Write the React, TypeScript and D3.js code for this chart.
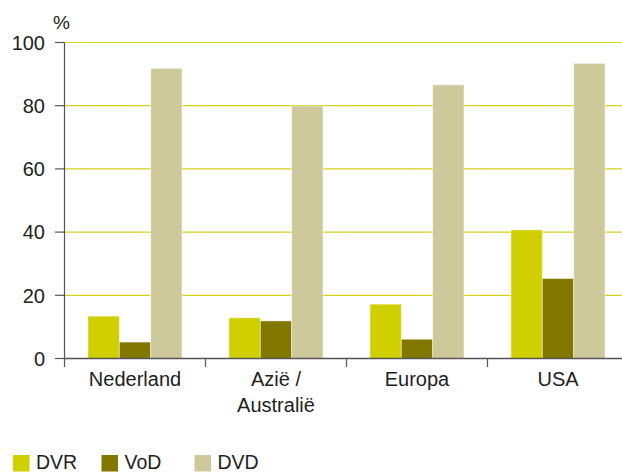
import React from "react";
import * as d3 from "d3";

const categories = ["Nederland", "Azië / Australië", "Europa", "USA"];
const categoryLines = [["Nederland"], ["Azië /", "Australië"], ["Europa"], ["USA"]];
const seriesNames = ["DVR", "VoD", "DVD"];
const dvr = [13.4, 12.9, 17.2, 40.7];
const vod = [5.2, 11.9, 6.1, 25.3];
const dvd = [91.8, 79.9, 86.6, 93.4];
const yTicks = [0, 20, 40, 60, 80, 100];
const colors = ["#d0cf00", "#827800", "#cec99a"];

const W = 622;
const H = 473;
const FONT = "'Liberation Sans', Arial, Helvetica, sans-serif";

export default function App() {
  const left = 64.5;
  const bottom = 358.5;
  const top = 42.5;
  const x0 = d3.scaleBand<string>().domain(categories).range([left, 628.5]).paddingInner(0).paddingOuter(0);
  const x1 = d3.scaleBand<string>().domain(seriesNames).range([0, x0.bandwidth()]).paddingInner(0).paddingOuter(0.75);
  const y = d3.scaleLinear().domain([0, 100]).range([bottom, top]);
  const values = [dvr, vod, dvd];
  const axisColor = "#555";
  const gridColor = "#d4d21c";

  const boundaries = categories.slice(1).map((c) => x0(c) as number);

  return (
    <div style={{ position: "absolute", left: 0, top: 0 }}>
      <svg width={W} height={H} style={{ display: "block" }} fontFamily={FONT}>
        <rect x={0} y={0} width={W} height={H} fill="#fff" />
        {/* gridlines */}
        {yTicks.filter((t) => t > 0).map((t) => (
          <line key={"g" + t} x1={left} x2={W} y1={y(t)} y2={y(t)} stroke={gridColor} strokeWidth={1.2} />
        ))}
        {/* bars */}
        {categories.map((c, ci) => (
          <g key={c} transform={`translate(${x0(c)},0)`}>
            {seriesNames.map((s, si) => {
              const v = values[si][ci];
              return (
                <rect
                  key={s}
                  x={x1(s)}
                  y={y(v)}
                  width={x1.bandwidth()}
                  height={bottom - y(v)}
                  fill={colors[si]}
                  stroke="rgba(255,255,255,0.45)"
                  strokeWidth={1}
                />
              );
            })}
          </g>
        ))}
        {/* axes */}
        <line x1={left} x2={left} y1={top} y2={367} stroke={axisColor} strokeWidth={1.2} />
        <line x1={left} x2={W} y1={bottom} y2={bottom} stroke={axisColor} strokeWidth={1.5} />
        {yTicks.map((t) => (
          <g key={"t" + t}>
            <line x1={55} x2={left} y1={y(t)} y2={y(t)} stroke={axisColor} strokeWidth={1.2} />
            <text x={45} y={y(t)} dy="0.36em" textAnchor="end" fontSize={20} fill="#222">
              {t}
            </text>
          </g>
        ))}
        {boundaries.map((b, i) => (
          <line key={"b" + i} x1={b} x2={b} y1={bottom} y2={367} stroke={axisColor} strokeWidth={1.2} />
        ))}
        <text x={53} y={29} fontSize={19} fill="#222">%</text>
        {/* category labels */}
        {categories.map((c, ci) => (
          <text key={"l" + c} x={(x0(c) as number) + x0.bandwidth() / 2} y={386} textAnchor="middle" fontSize={20} fill="#222">
            {categoryLines[ci].map((ln, li) => (
              <tspan key={li} x={(x0(c) as number) + x0.bandwidth() / 2} dy={li === 0 ? 0 : 25.5}>
                {ln}
              </tspan>
            ))}
          </text>
        ))}
        {/* legend */}
        {seriesNames.map((s, si) => {
          const lx = [13, 101.5, 194.5][si];
          return (
            <g key={"leg" + s}>
              <rect x={lx} y={455} width={16.5} height={16.5} fill={colors[si]} />
              <text x={lx + 23} y={469} fontSize={19.5} fill="#222">{s}</text>
            </g>
          );
        })}
      </svg>
    </div>
  );
}
